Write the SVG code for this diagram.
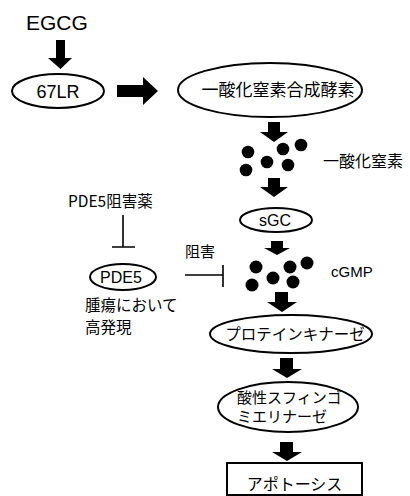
<svg xmlns="http://www.w3.org/2000/svg" width="410" height="496" viewBox="0 0 410 496">
<style>
.t{font-family:"Liberation Sans","Noto Sans CJK JP",sans-serif;fill:#000}
.j{font-family:"Noto Sans CJK JP","Liberation Sans",sans-serif;fill:#000}
.node{fill:#fff;stroke:#000;stroke-width:2}
.ar{fill:#000}
.ln{stroke:#000;stroke-width:1.6;fill:none}
.dot{fill:#000}
</style>
<rect width="410" height="496" fill="#fff"/>
<g id="connectors">
<polygon class="ar" points="56,40 65,40 65,58 72,58 60.5,69 48,58 56,58"/>
<polygon class="ar" points="117,85 143,85 143,77 158,91 143,105 143,97 117,97"/>
<polygon class="ar" points="268,122 280,122 280,132 288,132 274,142 260,132 268,132"/>
<polygon class="ar" points="268,178 280,178 280,187 288,187 274,197 260,187 268,187"/>
<polygon class="ar" points="271,241 283,241 283,248 290,248 277,255 264,248 271,248"/>
<polygon class="ar" points="275,292 288,292 288,302 297,302 282,312 267,302 275,302"/>
<polygon class="ar" points="280,358 293,358 293,369 302,369 287,378 272,369 280,369"/>
<polygon class="ar" points="280,442 293,442 293,452 302,452 287,461 272,452 280,452"/>
<path class="ln" d="M123,215 V247 M112,247 H135"/>
<path class="ln" d="M185,275 H223 M223,265 V287"/>
</g>
<g id="EGCG"><text class="t" x="26" y="30" font-size="21">EGCG</text></g>
<g id="n67LR"><ellipse class="node" cx="58" cy="91" rx="46" ry="17"/><text class="t" x="58" y="98" font-size="18" text-anchor="middle">67LR</text></g>
<g id="NOS"><ellipse class="node" cx="270" cy="90" rx="92" ry="27"/><text class="j" x="278" y="96" font-size="17" text-anchor="middle">一酸化窒素合成酵素</text></g>
<g id="NO">
<circle class="dot" cx="248" cy="152" r="6.3"/><circle class="dot" cx="283" cy="149" r="6.3"/><circle class="dot" cx="301" cy="145" r="6.3"/><circle class="dot" cx="267" cy="162" r="6.3"/><circle class="dot" cx="288" cy="165" r="6.3"/><circle class="dot" cx="246" cy="170" r="6.3"/>
<text class="j" x="323" y="167" font-size="16">一酸化窒素</text>
</g>
<g id="sGC"><ellipse class="node" cx="276" cy="220" rx="36" ry="12" stroke-width="1.3"/><text class="t" x="275" y="226" font-size="16" text-anchor="middle">sGC</text></g>
<g id="cGMP">
<circle class="dot" cx="256" cy="267" r="6.5"/><circle class="dot" cx="290" cy="267" r="6.5"/><circle class="dot" cx="307" cy="263" r="6.5"/><circle class="dot" cx="273" cy="278" r="6.5"/><circle class="dot" cx="293" cy="282" r="6.5"/><circle class="dot" cx="252" cy="285" r="6.5"/>
<text class="t" x="331" y="277" font-size="15">cGMP</text>
</g>
<g id="PDE5inh"><text class="j" x="68" y="207" font-size="15.5">PDE5阻害薬</text></g>
<g id="PDE5"><ellipse class="node" cx="123" cy="277" rx="33" ry="13"/><text class="t" x="121" y="283" font-size="16" text-anchor="middle">PDE5</text>
<text class="j" x="85" y="311" font-size="15.5">腫瘍において</text><text class="j" x="85" y="333" font-size="15.5">高発現</text></g>
<g id="inhibit"><text class="j" x="185" y="257" font-size="15">阻害</text></g>
<g id="PK"><ellipse class="node" cx="291" cy="334" rx="81" ry="19"/><text class="j" x="295" y="340" font-size="15.5" text-anchor="middle">プロテインキナーゼ</text></g>
<g id="ASM"><ellipse class="node" cx="288" cy="407" rx="70" ry="25"/><text class="j" x="237" y="403" font-size="15">酸性スフィンゴ</text><text class="j" x="237" y="422" font-size="15">ミエリナーゼ</text></g>
<g id="apoptosis"><rect class="node" x="227" y="463" width="135" height="32"/><text class="j" x="294.5" y="490" font-size="16" text-anchor="middle">アポトーシス</text></g>
</svg>
